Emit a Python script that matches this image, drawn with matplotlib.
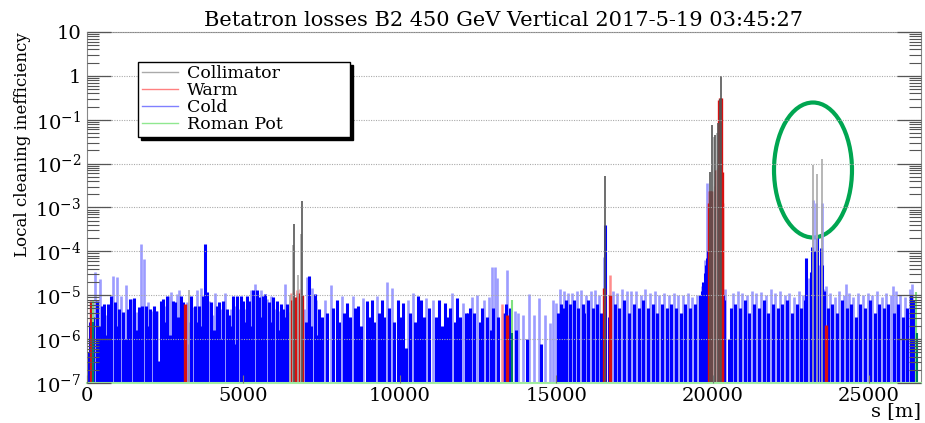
import numpy as np
import matplotlib.pyplot as plt
from matplotlib.lines import Line2D
from matplotlib.patches import Ellipse
from matplotlib.ticker import LogLocator, NullFormatter

plt.rcParams['font.family'] = 'DejaVu Serif'
plt.rcParams['mathtext.fontset'] = 'dejavuserif'

title = "Betatron losses B2 450 GeV Vertical 2017-5-19 03:45:27"
ring_length = 26659

# all heights are log10(local cleaning inefficiency)
# cold losses, single bins (light blue)
cold_light_s = [255, 415, 607, 830, 969, 1097, 1235, 1448, 1587, 1714, 1821, 1949, 2077, 2253,
                2481, 2609, 2673, 2865, 2929, 3205, 3397, 3525, 3631, 3908, 4036, 4100, 4291,
                4419, 4611, 4739, 4866, 5058, 5250, 5378, 5569, 5761, 5889, 6017, 6144, 6336,
                6464, 6933, 7039, 7199, 7330,
                7604, 7795, 8136, 8509, 8829, 9255, 9574, 9734, 10266, 10426, 10852, 11065,
                11683, 12024,
                12300, 12480, 12700, 12850, 12950, 13030, 13100, 13410, 13680, 13780, 13940,
                14120, 14280, 14450, 14650, 14800, 14900, 15000, 15110, 15250, 15390, 15510,
                15650, 15790, 15950, 16100, 16240, 16380, 16520, 16800, 16950, 17100, 17250,
                17400, 17560, 17700, 17850, 18000, 18150, 18300, 18450, 18600, 18750, 18900,
                19050, 19200, 19350, 19500, 19650, 19760, 19830,
                20400, 20650, 20800, 20950, 21100, 21250, 21400, 21550, 21700, 21850, 22000,
                22150, 22300, 22450, 22600, 22750, 22900,
                23078, 23206, 23312, 23400, 23494, 23547, 23632,
                23750, 23900, 24050, 24200, 24270, 24350, 24500, 24650, 24800, 24950, 25100,
                25250, 25400, 25550, 25700, 25762, 25850, 26000, 26150, 26300, 26380]
cold_light_log = [-4.48, -4.63, -5.46, -4.55, -4.59, -5.01, -4.76, -5.08, -5.39, -3.83, -4.17,
                  -5.16, -5.35, -5.35, -5.24, -5.01, -4.93, -4.97, -4.89, -5.16, -5.27, -4.89,
                  -4.84, -5.12, -5.46, -4.95, -5.31, -4.95, -5.31, -5.24, -5.31, -5.31, -4.89,
                  -4.74, -4.89, -5.08, -5.01, -5.31, -5.35, -4.74, -5.39, -5.31, -4.59, -4.84,
                  -5.10,
                  -5.10, -4.76, -5.02, -5.02, -5.06, -5.02, -4.70, -4.83, -5.10, -4.95, -5.06,
                  -5.10, -4.95, -5.18,
                  -5.05, -5.00, -5.10, -5.05, -4.35, -4.35, -4.60, -4.43, -5.37, -5.41, -5.45,
                  -4.98, -5.45, -5.06, -5.45, -5.63, -5.10, -5.18, -4.85, -4.90, -4.95, -4.95,
                  -4.90, -4.88, -5.00, -4.90, -4.88, -5.00, -4.13, -4.90, -4.95, -4.85, -4.90,
                  -4.90, -4.90, -5.00, -4.85, -4.95, -4.90, -5.00, -4.95, -5.00, -4.95, -5.00,
                  -5.00, -4.95, -5.05, -5.00, -4.80, -4.20, -2.44,
                  -4.85, -4.95, -4.90, -4.95, -5.00, -4.90, -4.95, -4.92, -5.00, -4.85, -4.95,
                  -4.90, -5.00, -4.95, -5.05, -4.90, -5.00,
                  -4.60, -2.82, -2.90, -4.30, -2.90, -4.85, -4.80,
                  -4.95, -5.05, -4.90, -5.00, -4.74, -4.95, -5.05, -4.95, -5.00, -4.95, -5.00,
                  -4.90, -5.05, -4.95, -5.00, -4.80, -4.90, -5.00, -5.05, -4.85, -4.75]

# cold losses, overlapping bins (solid blue)
cold_dark_s = [43, 90, 180, 330, 372, 468, 543, 620, 682, 720, 756, 895, 930, 1033, 1161, 1200,
               1299, 1374, 1512, 1560, 1650, 1757, 1885, 1980, 2013, 2140, 2204, 2300, 2353,
               2417, 2450, 2545, 2640, 2737, 2801, 2900, 2993, 3056, 3250, 3300, 3322, 3461,
               3495, 3588, 3680, 3716, 3780, 3844, 3971, 4060, 4164, 4228, 4320, 4355, 4483,
               4547, 4580, 4675, 4770, 4803, 4930, 4994, 5040, 5122, 5186, 5280, 5314, 5441,
               5505, 5600, 5633, 5697, 5825, 5860, 5953, 6081, 6170, 6208, 6272, 6370, 6400,
               7000, 7103, 7170, 7284, 7380, 7423,
               7500, 7680, 7870, 7977, 8060, 8220, 8296, 8400, 8580, 8669, 8750, 8935, 9020,
               9095, 9180, 9340, 9414, 9490, 9650, 9820, 9947, 10030, 10107, 10190, 10340,
               10500, 10586, 10692, 10770, 10940, 11150, 11257, 11340, 11438, 11520, 11600,
               11760, 11832, 11920, 12100, 12183,
               12250, 12380, 12550, 12620, 12780, 12900, 12990, 13150, 13300, 13380, 13460,
               13520, 13720, 14050, 14500, 15060, 15150, 15200, 15320, 15450, 15580, 15700,
               15850, 15900, 16020, 16170, 16300, 16440, 16570, 16700, 16880, 17020, 17170,
               17320, 17480, 17630, 17780, 17920, 18080, 18230, 18380, 18530, 18680, 18830,
               18980, 19130, 19280, 19430, 19580, 19650, 19700, 19740, 19780, 19810, 19850,
               20320, 20350, 20520, 20600, 20720, 20870, 21020, 21170, 21320, 21480, 21630,
               21780, 21930, 22080, 22230, 22380, 22530, 22680, 22830, 22960, 22993, 23131,
               23174, 23240, 23280, 23344, 23451, 23500, 23570, 23700, 23830, 23980, 24120,
               24280, 24420, 24570, 24720, 24870, 25020, 25180, 25320, 25470, 25620, 25780,
               25930, 26080, 26220, 26330, 26420, 26480]
cold_dark_log = [-6.3, -5.6, -5.5, -5.12, -5.7, -5.24, -5.20, -5.9, -5.20, -5.7, -5.01, -5.16,
                 -5.7, -5.31, -5.39, -6.0, -5.31, -5.08, -5.07, -5.8, -5.27, -5.24, -5.24, -5.7,
                 -5.31, -5.24, -5.35, -6.5, -5.12, -5.08, -5.6, -5.01, -5.9, -5.12, -5.16, -5.5,
                 -5.01, -5.16, -6.1, -5.6, -5.01, -5.24, -5.6, -5.24, -5.7, -5.01, -3.83, -4.93,
                 -5.16, -5.8, -5.24, -5.16, -6.0, -5.12, -5.31, -5.46, -5.7, -5.01, -6.1, -5.01,
                 -5.01, -5.12, -5.6, -5.01, -5.12, -5.7, -4.89, -4.89, -5.05, -5.5, -5.01, -4.97,
                 -5.16, -5.6, -5.05, -5.12, -5.8, -5.20, -5.31, -5.5, -5.20,
                 -5.6, -4.55, -5.7, -4.97, -5.9, -5.31,
                 -5.5, -5.4, -5.3, -5.10, -5.6, -5.4, -5.18, -5.5, -5.3, -5.25, -5.7, -5.14, -5.5,
                 -5.10, -5.6, -5.4, -5.10, -5.5, -5.3, -5.6, -5.10, -5.5, -5.18, -6.2, -5.4,
                 -5.6, -5.02, -5.10, -5.5, -5.3, -5.5, -5.10, -5.7, -5.18, -5.5, -5.3,
                 -5.6, -5.06, -5.5, -5.4, -5.40,
                 -5.3, -5.4, -5.6, -5.3, -5.5, -5.8, -5.3, -5.5, -5.4, -5.2, -5.6,
                 -5.3, -5.8, -6.0, -6.1, -5.4, -5.2, -5.3, -5.1, -5.2, -5.1, -5.3,
                 -5.2, -5.4, -5.1, -5.3, -5.2, -5.4, -3.40, -5.5, -5.2, -5.3, -5.1,
                 -5.4, -5.2, -5.3, -5.1, -5.3, -5.2, -5.4, -5.2, -5.3, -5.2, -5.3,
                 -5.4, -5.2, -5.3, -5.2, -5.0, -4.9, -4.7, -4.5, -4.3, -4.15, -4.0,
                 -5.0, -5.1, -6.0, -5.3, -5.2, -5.3, -5.1, -5.4, -5.2, -5.3, -5.1,
                 -5.4, -5.2, -5.3, -5.2, -5.1, -5.4, -5.2, -5.3, -5.1, -4.16, -4.47,
                 -3.90, -4.0, -4.05, -3.70, -3.93, -4.3, -4.9, -5.3, -5.2, -5.4, -5.1,
                 -5.3, -5.2, -5.5, -5.2, -5.3, -5.1, -5.4, -5.2, -5.3, -5.2, -5.4,
                 -5.2, -5.5, -5.3, -5.0, -5.1, -5.6]

# warm losses
warm_light_s = [6507, 6600, 6700, 6800, 13250, 16720]
warm_light_log = [-4.95, -4.93, -4.88, -4.86, -5.19, -4.54]
warm_dark_s = [128, 3131, 6560, 6650, 6750, 6858, 13440, 16528, 16720,
               19870, 19900, 19930, 19960, 19990, 20020, 20060, 20100, 20130, 20160,
               20200, 20230, 20260, 20290, 20310, 23611]
warm_dark_log = [-5.12, -5.2, -5.1, -5.05, -4.95, -5.0, -5.45, -4.84, -5.0,
                 -2.9, -2.62, -2.62, -2.65, -2.62, -2.7, -2.5, -2.15, -2.15, -2.1,
                 -0.55, -0.51, -0.51, -2.2, -2.89, -5.68]

# collimators
coll_dark_s = [6624, 6858, 16570, 19927, 19980, 20087, 20170, 20234, 20278]
coll_dark_log = [-3.38, -2.85, -2.28, -2.2, -1.12, -1.35, -1.08, -0.53, 0.0]
coll_light_s = [3269, 6490, 6592, 6730, 6837, 20050, 20130, 23206, 23334, 23494]
coll_light_log = [-4.87, -5.0, -3.86, -4.53, -3.61, -1.40, -1.30, -2.03, -2.24, -1.90]

# roman pots
rp_light_s = [202, 13600, 26507]
rp_light_log = [-5.12, -5.10, -4.93]
rp_dark_s = [202, 13600, 26520]
rp_dark_log = [-5.6, -5.85, -5.85]

legend_labels = ["Collimator", "Warm", "Cold", "Roman Pot"]
legend_colors = ["#aaaaaa", "#ff8080", "#8080ff", "#90e890"]

y_ticks = [1e-7, 1e-6, 1e-5, 1e-4, 1e-3, 1e-2, 1e-1, 1, 10]
y_tick_labels = [r"$10^{-7}$", r"$10^{-6}$", r"$10^{-5}$", r"$10^{-4}$", r"$10^{-3}$",
                 r"$10^{-2}$", r"$10^{-1}$", "1", "10"]
x_ticks = [0, 5000, 10000, 15000, 20000, 25000]

fig = plt.figure(figsize=(9.25, 4.23), dpi=100)
ax = fig.add_axes([87/925, 40/423, 834/925, 351/423])
ax.set_yscale("log")
ax.set_xlim(0, ring_length)
ax.set_ylim(1e-7, 10)


def bars(s, lg, color, lw):
    ax.vlines(s, 1e-7, 10.0**np.array(lg), colors=color, linewidth=lw)


bars(cold_light_s, cold_light_log, "#9c9cff", 1.9)
bars(cold_dark_s, cold_dark_log, "#0000ff", 2.2)
bars(warm_light_s, warm_light_log, "#ff8c8c", 1.8)
bars(warm_dark_s, warm_dark_log, "#d81010", 2.4)
bars(coll_light_s, coll_light_log, "#aaaaaa", 1.2)
bars(coll_dark_s, coll_dark_log, "#555555", 1.2)
bars(rp_light_s, rp_light_log, "#80e080", 1.5)
bars(rp_dark_s, rp_dark_log, "#008060", 1.5)

ax.set_yticks(y_ticks, y_tick_labels)
ax.yaxis.set_minor_locator(LogLocator(base=10, subs=np.arange(2, 10), numticks=20))
ax.yaxis.set_minor_formatter(NullFormatter())
ax.set_xticks(x_ticks, [str(v) for v in x_ticks])

ax.tick_params(axis="y", which="major", direction="in", left=True, right=True,
               length=17, width=0.9, color="#555555", labelsize=14, pad=4)
ax.tick_params(axis="y", which="minor", direction="in", left=True, right=True,
               length=8.5, width=0.8, color="#555555")
ax.tick_params(axis="x", which="major", direction="in", length=6, color="#777777",
               labelsize=14, pad=3)

ax.yaxis.grid(True, which="major", color="#aaaaaa", linestyle=(0, (1, 1.2)), linewidth=0.8)
ax.set_axisbelow(False)

for side in ["left", "right", "top"]:
    ax.spines[side].set_color("#888888")
ax.spines["bottom"].set_color("#a0eea0")
ax.spines["bottom"].set_linewidth(1.5)

ax.set_title(title, fontsize=15, pad=4)
ax.set_ylabel("Local cleaning inefficiency", fontsize=12, loc="top", labelpad=3)
ax.set_xlabel("s [m]", fontsize=14, loc="right", labelpad=-2)

handles = [Line2D([], [], color=c, linewidth=1.0) for c in legend_colors]
leg = ax.legend(handles, legend_labels, loc="upper left",
                bbox_to_anchor=(0.0612, 0.5, 0.2542, 0.4145), mode="expand",
                borderaxespad=0, fancybox=False, shadow={"color": "black", "alpha": 1},
                framealpha=1, edgecolor="black", fontsize=12.5, handlelength=2.1,
                handletextpad=0.5, labelspacing=0.0, borderpad=0.2)
leg.get_frame().set_linewidth(1.0)

ax.add_patch(Ellipse((0.8705, 0.6068), 0.0935, 0.3846, transform=ax.transAxes, fill=False,
                     edgecolor="#00a651", linewidth=3, clip_on=False))

fig.savefig("out.png", dpi=100)
